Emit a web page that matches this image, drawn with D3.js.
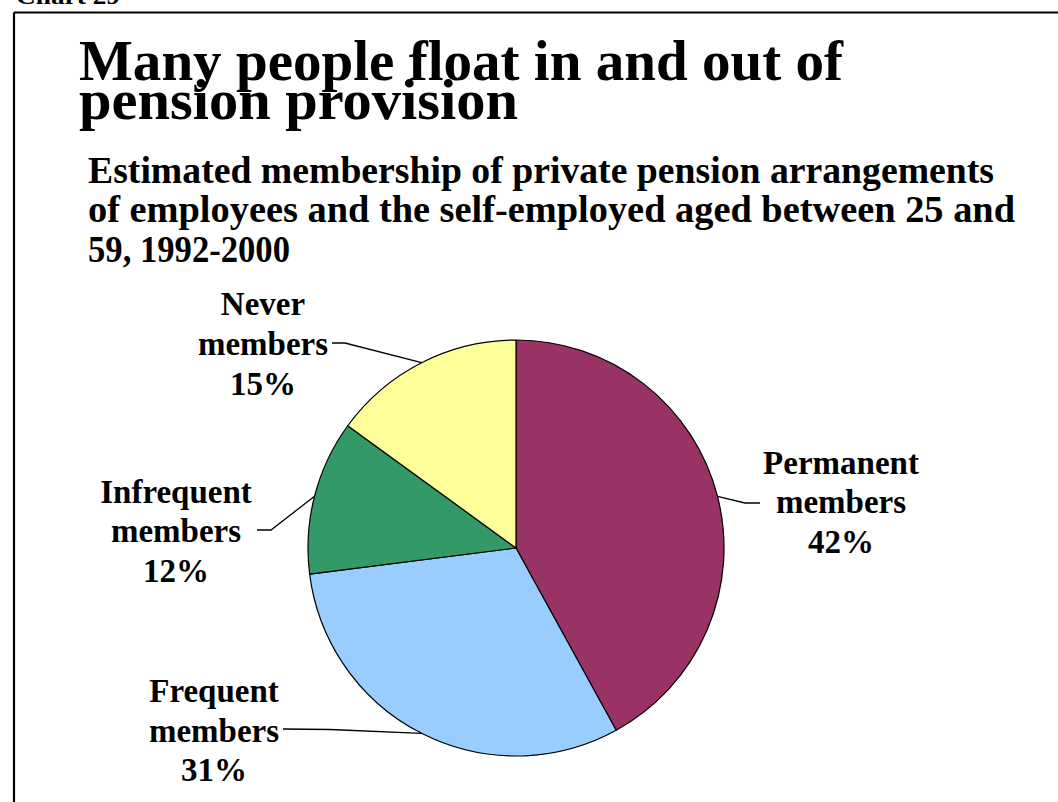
<!DOCTYPE html>
<html>
<head>
<meta charset="utf-8">
<script src="https://cdn.jsdelivr.net/npm/d3@7/dist/d3.min.js"></script>
<style>
  html, body { margin: 0; padding: 0; background: #fff; }
  svg { display: block; }
  text { font-family: "Liberation Serif", "Times New Roman", serif; font-weight: bold; fill: #000; }
</style>
</head>
<body>
<svg id="chart" width="1058" height="802"></svg>
<script>
// Membership groups, share of people (%), and slice colours
const categories = ["Permanent members", "Frequent members", "Infrequent members", "Never members"];
const shares = [42, 31, 12, 15];
const sliceColors = ["#993366", "#99CCFF", "#339966", "#FFFF99"];

const titleLines = ["Many people float in and out of", "pension provision"];
const subtitleLines = [
  "Estimated membership of private pension arrangements",
  "of employees and the self-employed aged between 25 and",
  "59, 1992-2000"
];

const W = 1058, H = 802;
const svg = d3.select("#chart");

// Frame: top and left rules, with the cut-off chart number above
svg.append("text").attr("x", 16).attr("y", 4).attr("font-size", 24)
  .attr("textLength", 104).attr("lengthAdjust", "spacingAndGlyphs").text("Chart 29");
svg.append("line").attr("x1", 14).attr("y1", 12.5).attr("x2", W).attr("y2", 12.5)
  .attr("stroke", "#000").attr("stroke-width", 2.2);
svg.append("line").attr("x1", 14).attr("y1", 12.5).attr("x2", 14).attr("y2", H)
  .attr("stroke", "#000").attr("stroke-width", 2.2);

// Title (tightly leaded, two lines)
const titleLayout = [{ y: 80, w: 764 }, { y: 119, w: 439 }];
titleLines.forEach((t, i) => {
  svg.append("text").attr("x", 79).attr("y", titleLayout[i].y)
    .attr("font-size", 57)
    .attr("textLength", titleLayout[i].w).attr("lengthAdjust", "spacingAndGlyphs")
    .text(t);
});

// Subtitle
const subLayout = [{ y: 183, w: 906 }, { y: 222, w: 927 }, { y: 262, w: 202 }];
subtitleLines.forEach((t, i) => {
  svg.append("text").attr("x", 88).attr("y", subLayout[i].y)
    .attr("font-size", 38)
    .attr("textLength", subLayout[i].w).attr("lengthAdjust", "spacingAndGlyphs")
    .text(t);
});

// Pie, clockwise from twelve o'clock
const cx = 516, cy = 548, R = 208;
const pie = d3.pie().sort(null).value(d => d.value).startAngle(0).endAngle(2 * Math.PI);
const arc = d3.arc().innerRadius(0).outerRadius(R);
const data = categories.map((c, i) => ({ name: c, value: shares[i], color: sliceColors[i] }));
const arcs = pie(data);

const g = svg.append("g").attr("transform", `translate(${cx},${cy})`);
g.selectAll("path.slice").data(arcs).enter().append("path")
  .attr("class", "slice")
  .attr("d", arc)
  .attr("fill", d => d.data.color)
  .attr("stroke", "#000").attr("stroke-width", 1.2).attr("stroke-linejoin", "round");

// Label placement per slice: text centre, line baselines, and leader line end/elbow
const labelLayout = [
  { x: 841, ys: [474, 513, 553], end: [760, 503], elbow: [745, 503] },
  { x: 214, ys: [702, 742, 781], end: [283, 729], elbow: [330, 729.5] },
  { x: 176, ys: [503, 542, 582], end: [257, 530], elbow: [271, 530] },
  { x: 263, ys: [315, 355, 395], end: [332, 343], elbow: [345, 343] }
];

arcs.forEach((a, i) => {
  const L = labelLayout[i];
  const mid = (a.startAngle + a.endAngle) / 2;
  const ex = cx + R * Math.sin(mid), ey = cy - R * Math.cos(mid);
  svg.append("path")
    .attr("d", d3.line()([L.end, L.elbow, [ex, ey]]))
    .attr("fill", "none").attr("stroke", "#000").attr("stroke-width", 1.3);

  const words = a.data.name.split(" ");
  const lines = [words[0], words[1], d3.format("d")(a.data.value) + "%"];
  lines.forEach((t, j) => {
    svg.append("text").attr("x", L.x).attr("y", L.ys[j])
      .attr("text-anchor", "middle").attr("font-size", 33)
      .text(t);
  });
});
</script>
</body>
</html>
